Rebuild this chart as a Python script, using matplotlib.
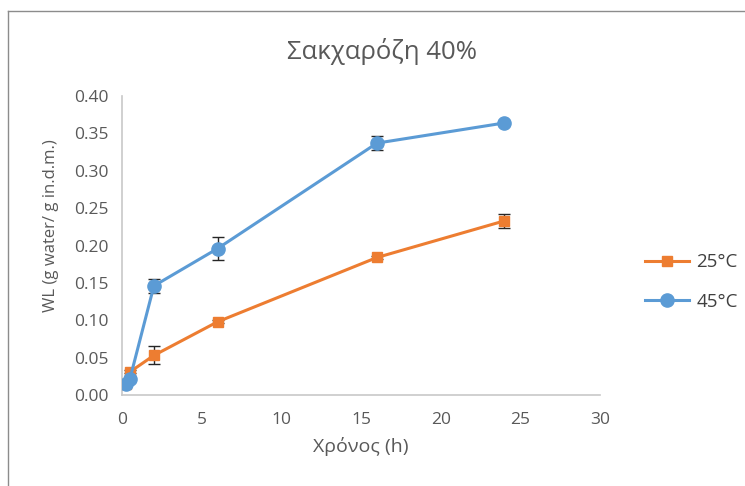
import matplotlib.pyplot as plt
from matplotlib.lines import Line2D

plt.rcParams["font.family"] = ["Open Sans", "DejaVu Sans"]

# sampling times (h)
time_h = [0.25, 0.5, 2, 6, 16, 24]

wl_25 = [0.015, 0.031, 0.053, 0.098, 0.184, 0.233]
err_25 = [0.002, 0.002, 0.012, 0.002, 0.002, 0.0095]

wl_45 = [0.015, 0.022, 0.146, 0.196, 0.337, 0.364]
err_45 = [0.002, 0.002, 0.009, 0.0155, 0.0095, 0.002]

series = [
    ("25°C", wl_25, err_25, "#ED7D31", "s", 7.5),
    ("45°C", wl_45, err_45, "#5B9BD5", "o", 9.5),
]

text_grey = "#595959"

fig = plt.figure(figsize=(7.45, 4.86), dpi=100)
ax = fig.add_axes([0.1638, 0.1872, 0.6416, 0.6152])

for label, values, errors, color, marker, msize in series:
    ax.errorbar(time_h, values, yerr=errors, fmt="none", ecolor="#262626",
                elinewidth=1.0, capsize=4, capthick=1.0, zorder=2)
    ax.plot(time_h, values, color=color, marker=marker, markersize=msize,
            linewidth=2.2, label=label, zorder=3)

ax.set_xlim(0, 30)
ax.set_ylim(0, 0.40)
ax.set_xticks(range(0, 31, 5))
ax.set_yticks([i * 0.05 for i in range(9)])
ax.set_yticklabels([f"{i * 0.05:.2f}" for i in range(9)])
ax.tick_params(length=0, labelsize=12.5, labelcolor=text_grey)
ax.tick_params(axis="x", pad=12)
ax.tick_params(axis="y", pad=10)

for side in ("top", "right"):
    ax.spines[side].set_visible(False)
for side in ("left", "bottom"):
    ax.spines[side].set_color("#c8c8c8")
    ax.spines[side].set_linewidth(1.2)

ax.set_xlabel("Χρόνος (h)", fontsize=14, color=text_grey, labelpad=7)
ax.text(-0.148, 0.565, "WL (g water/ g in.d.m.)", transform=ax.transAxes,
        rotation=90, ha="center", va="center", fontsize=12, color=text_grey)

fig.text(0.513, 0.895, "Σακχαρόζη 40%", ha="center", va="center",
         fontsize=18.5, color=text_grey)

ax.legend(loc="center left", bbox_to_anchor=(1.058, 0.378), frameon=False,
          fontsize=13.5, labelcolor="#404040", handlelength=2.35,
          labelspacing=1.13, handletextpad=0.4)

# chart frame
fig.add_artist(Line2D([8 / 745, 8 / 745], [0, 1 - 11 / 486],
                      color="#8c8c8c", linewidth=1.0, transform=fig.transFigure))
fig.add_artist(Line2D([8 / 745, 1], [1 - 11 / 486, 1 - 11 / 486],
                      color="#8c8c8c", linewidth=1.0, transform=fig.transFigure))

fig.savefig("out.png", dpi=100)
